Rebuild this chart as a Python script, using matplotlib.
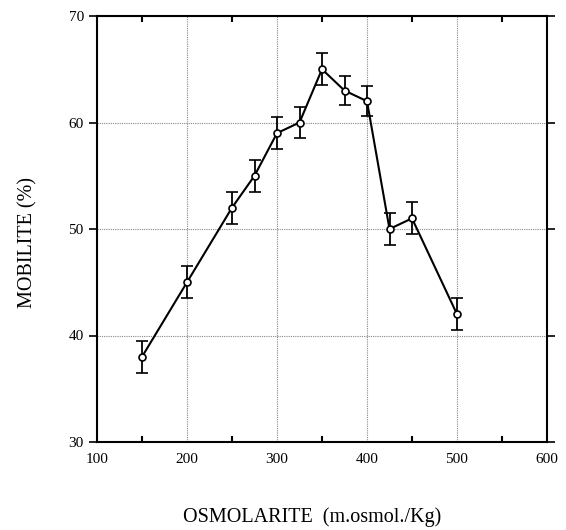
import matplotlib
matplotlib.use("Agg")
import matplotlib.pyplot as plt
from matplotlib.ticker import MultipleLocator

osmolarity = [150, 200, 250, 275, 300, 325, 350, 375, 400, 425, 450, 500]
mobility = [38, 45, 52, 55, 59, 60, 65, 63, 62, 50, 51, 42]
errors = [1.5, 1.5, 1.5, 1.5, 1.5, 1.5, 1.5, 1.4, 1.4, 1.5, 1.5, 1.5]

plt.rcParams['font.family'] = ['Liberation Serif', 'DejaVu Serif']

fig = plt.figure(figsize=(5.66, 5.30), dpi=100)
ax = fig.add_axes([97/566, 88/530, 450/566, 426/530])

ax.errorbar(osmolarity, mobility, yerr=errors, color='black', lw=1.5,
            marker='o', markersize=5, markerfacecolor='white',
            markeredgecolor='black', markeredgewidth=1.2,
            ecolor='black', elinewidth=1.3, capsize=4, capthick=1.3, zorder=3)

ax.set_xlim(100, 600)
ax.set_ylim(30, 70)
ax.xaxis.set_major_locator(MultipleLocator(100))
ax.xaxis.set_minor_locator(MultipleLocator(50))
ax.yaxis.set_major_locator(MultipleLocator(10))

ax.grid(True, which='major', color='#888888', linestyle=(0, (1, 1)), linewidth=0.8)

for s in ax.spines.values():
    s.set_linewidth(1.5)

ax.tick_params(axis='x', which='major', direction='in', length=0, labelsize=11, pad=8, top=False)
ax.tick_params(axis='x', which='minor', direction='in', length=4, width=1.5, top=True, bottom=True)
ax.tick_params(axis='y', which='major', direction='out', length=6, width=1.2, labelsize=11,
               right=True, left=True)

ax.set_xlabel('OSMOLARITE  (m.osmol./Kg)', fontsize=14.5, va='center')
ax.xaxis.set_label_coords((312 - 97) / 450, -75/426)
ax.set_ylabel('MOBILITE (%)', fontsize=14.5, va='center')
ax.yaxis.set_label_coords(-69/450, (442 - 243) / 426)

fig.savefig('out.png', dpi=100)
